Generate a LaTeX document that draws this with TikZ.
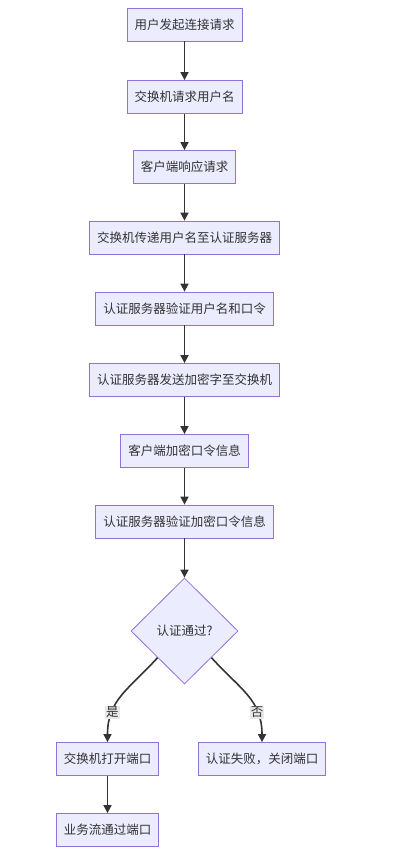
\documentclass[tikz,border=0pt]{standalone}
\usepackage{fontspec}
\setmainfont{Noto Sans CJK SC}
\usetikzlibrary{shapes.geometric,arrows.meta}
\definecolor{boxfill}{HTML}{ECECFF}
\definecolor{boxline}{HTML}{9370DB}
\definecolor{linkgray}{HTML}{333333}
\definecolor{labelbg}{HTML}{E8E8E8}
\tikzstyle{stepbox} = [draw=boxline,fill=boxfill,line width=0.8pt,minimum height=33pt,inner xsep=7.5pt,text=linkgray,font=\fontsize{12.5}{15}\selectfont]
\tikzstyle{decision} = [diamond,draw=boxline,fill=boxfill,line width=0.8pt,shape aspect=1,minimum width=107pt,minimum height=106pt,inner sep=0pt,text=linkgray,font=\fontsize{12.5}{15}\selectfont]
\tikzstyle{flow} = [line width=1.6pt,-{Triangle[length=8pt,width=8pt]},color=linkgray]
\tikzstyle{edgelabel} = [fill=labelbg,inner sep=1pt,text=linkgray,font=\fontsize{12.5}{15}\selectfont]

\begin{document}
\begin{tikzpicture}[x=1pt,y=-1pt]
          % page
          \useasboundingbox (0,0) rectangle (414,853);

          % main column
          \node[stepbox] (req) at (184.5,24.5) {用户发起连接请求};
          \node[stepbox] (askname) at (184.5,97) {交换机请求用户名};
          \node[stepbox] (reply) at (184.5,167) {客户端响应请求};
          \node[stepbox] (pass) at (184.5,237.5) {交换机传递用户名至认证服务器};
          \node[stepbox] (check) at (184.5,308.5) {认证服务器验证用户名和口令};
          \node[stepbox] (sendkey) at (184.5,380) {认证服务器发送加密字至交换机};
          \node[stepbox] (encrypt) at (184.5,451) {客户端加密口令信息};
          \node[stepbox] (verify) at (184.5,521.5) {认证服务器验证加密口令信息};
          \node[decision] (ok) at (184.5,631) {认证通过?};

          % branches
          \node[stepbox] (open) at (107.5,759) {交换机打开端口};
          \node[stepbox] (fail) at (262,759) {认证失败，关闭端口};
          \node[stepbox] (traffic) at (107.5,830) {业务流通过端口};

          \draw[flow] (req) -- (askname);
          \draw[flow] (askname) -- (reply);
          \draw[flow] (reply) -- (pass);
          \draw[flow] (pass) -- (check);
          \draw[flow] (check) -- (sendkey);
          \draw[flow] (sendkey) -- (encrypt);
          \draw[flow] (encrypt) -- (verify);
          \draw[flow] (verify) -- (ok);

          \draw[flow] (ok.south west)
               .. controls (128,690) and (107.5,700) .. (open.north)
               node[edgelabel,pos=0.71] {是};
          \draw[flow] (ok.south east)
               .. controls (241,690) and (262,700) .. (fail.north)
               node[edgelabel,pos=0.71] {否};
          \draw[flow] (open) -- (traffic);
\end{tikzpicture}
\end{document}
